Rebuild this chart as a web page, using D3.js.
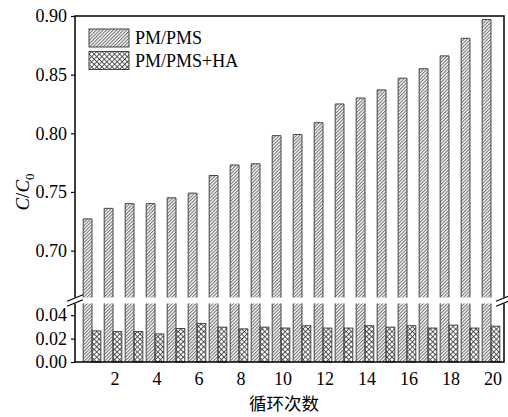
<!DOCTYPE html>
<html>
<head>
<meta charset="utf-8">
<script src="https://cdn.jsdelivr.net/npm/d3@7"></script>
<style>
  body { margin: 0; background: #fff; }
  svg { display: block; }
  text { font-family: "Liberation Serif", "DejaVu Serif", serif; fill: #000; }
</style>
</head>
<body>
<svg id="chart" width="508" height="417"></svg>
<script>
// Cycle numbers and the two series (C/C0)
const cycles = [1, 2, 3, 4, 5, 6, 7, 8, 9, 10, 11, 12, 13, 14, 15, 16, 17, 18, 19, 20]
const pmPms = [0.727, 0.736, 0.740, 0.740, 0.745, 0.749, 0.764, 0.773, 0.774, 0.798,
  0.799, 0.809, 0.825, 0.830, 0.837, 0.847, 0.855, 0.866, 0.881, 0.897]
const pmPmsHa = [0.0266, 0.026, 0.026, 0.024, 0.0286, 0.033, 0.0298, 0.0283, 0.0298, 0.029,
  0.031, 0.029, 0.029, 0.031, 0.0298, 0.031, 0.029, 0.0315, 0.029, 0.0306]
const seriesNames = ['PM/PMS', 'PM/PMS+HA']
const xTicks = [2, 4, 6, 8, 10, 12, 14, 16, 18, 20]
const upperTicks = [0.70, 0.75, 0.80, 0.85, 0.90]
const lowerTicks = [0.00, 0.02, 0.04]

const svg = d3.select('#chart')
const left = 75
const right = 504

// Scales : one x scale, two y scales for the broken axis
const xScale = d3.scaleLinear().domain([0.19, 20.62]).range([left, right])
const yUpper = d3.scaleLinear().domain([0.66, 0.90]).range([297.5, 16])
const yLower = d3.scaleLinear().domain([0, 0.05]).range([362, 303.5])
const barW = xScale(0.42) - xScale(0)

/**
 * Defines the hatch patterns used to fill the bars
 */
function addPatterns () {
  const defs = svg.append('defs')
  defs.append('pattern')
    .attr('id', 'hatch')
    .attr('patternUnits', 'userSpaceOnUse')
    .attr('width', 2.4).attr('height', 2.4)
    .attr('patternTransform', 'rotate(45)')
    .append('line')
    .attr('x1', 0.6).attr('y1', 0).attr('x2', 0.6).attr('y2', 2.4)
    .attr('stroke', '#333').attr('stroke-width', 0.75)

  const cross = defs.append('pattern')
    .attr('id', 'cross')
    .attr('patternUnits', 'userSpaceOnUse')
    .attr('width', 3.6).attr('height', 3.6)
    .attr('patternTransform', 'rotate(45)')
  cross.append('line')
    .attr('x1', 0.5).attr('y1', 0).attr('x2', 0.5).attr('y2', 3.6)
    .attr('stroke', '#333').attr('stroke-width', 0.8)
  cross.append('line')
    .attr('x1', 0).attr('y1', 0.5).attr('x2', 3.6).attr('y2', 0.5)
    .attr('stroke', '#333').attr('stroke-width', 0.8)
}

/**
 * Draws the bars in both parts of the broken axis
 */
function drawBars () {
  const g = svg.append('g').attr('class', 'bars')
  const top = yLower.range()[1]

  cycles.forEach((c, i) => {
    const x0 = xScale(c) - barW
    const x1 = xScale(c)
    // PM/PMS, upper part
    const yt = yUpper(pmPms[i])
    const yb = yUpper.range()[0]
    g.append('rect')
      .attr('x', x0).attr('y', yt).attr('width', barW).attr('height', yb - yt)
      .attr('fill', 'url(#hatch)')
    g.append('path')
      .attr('d', `M${x0},${yb}V${yt}H${x1}V${yb}`)
      .attr('fill', 'none').attr('stroke', '#444').attr('stroke-width', 1)
    // PM/PMS, lower part (runs through the whole lower segment)
    g.append('rect')
      .attr('x', x0).attr('y', top).attr('width', barW).attr('height', yLower(0) - top)
      .attr('fill', 'url(#hatch)')
    g.append('path')
      .attr('d', `M${x0},${top}V${yLower(0)}M${x1},${top}V${yLower(0)}`)
      .attr('fill', 'none').attr('stroke', '#444').attr('stroke-width', 1)
    // PM/PMS+HA
    const yh = yLower(pmPmsHa[i])
    g.append('rect')
      .attr('x', x1).attr('y', yh).attr('width', barW).attr('height', yLower(0) - yh)
      .attr('fill', 'url(#cross)')
      .attr('stroke', '#444').attr('stroke-width', 1)
  })
}

/**
 * Draws the frame, the axes and the break marks
 */
function drawAxes () {
  const up = svg.append('g').attr('class', 'y axis')
    .attr('transform', `translate(${left},0)`)
    .call(d3.axisLeft(yUpper).tickValues(upperTicks).tickFormat(d3.format('.2f')).tickSize(4).tickPadding(4))
  const low = svg.append('g').attr('class', 'y axis')
    .attr('transform', `translate(${left},0)`)
    .call(d3.axisLeft(yLower).tickValues(lowerTicks).tickFormat(d3.format('.2f')).tickSize(4).tickPadding(4))
  ;[up, low].forEach(a => {
    a.select('.domain').remove()
    a.selectAll('line').attr('stroke', '#000').attr('stroke-width', 1.2)
    a.selectAll('text').style('font-size', '18px')
      .style('font-family', '"Liberation Serif", serif')
  })

  // Frame lines, interrupted at the break
  const frame = svg.append('g').attr('stroke', '#000').attr('stroke-width', 1.5).attr('fill', 'none')
  const yb = yUpper.range()[0]
  const yt = yLower.range()[1]
  frame.append('path').attr('d',
    `M${left},${yb}V${yUpper(0.90)}H${right}V${yb}` +
    `M${left},${yt}V${yLower(0)}H${right}V${yt}`)

  // Break marks
  const marks = svg.append('g').attr('stroke', '#000').attr('stroke-width', 1.2)
  ;[left, right].forEach(x => {
    ;[yb + 0.5, yt - 0.5].forEach(y => {
      marks.append('line')
        .attr('x1', x - 8).attr('y1', y + 3.3)
        .attr('x2', x + 8).attr('y2', y - 3.3)
    })
  })

  // X tick labels
  svg.append('g').attr('class', 'x axis')
    .selectAll('text')
    .data(xTicks)
    .enter()
    .append('text')
    .attr('x', d => xScale(d) + 2)
    .attr('y', 385)
    .attr('text-anchor', 'middle')
    .style('font-size', '18px')
    .text(d => d)
}

/**
 * Draws the axis titles and the legend
 */
function drawLabels () {
  svg.append('text')
    .attr('x', 284)
    .attr('y', 410)
    .attr('text-anchor', 'middle')
    .style('font-family', '"Noto Sans CJK SC", sans-serif')
    .style('font-size', '17.5px')
    .text('循环次数')

  const yl = svg.append('text')
    .attr('transform', 'translate(29,192) rotate(-90)')
    .attr('text-anchor', 'middle')
    .style('font-size', '19px')
  yl.append('tspan').style('font-style', 'italic').text('C')
  yl.append('tspan').text('/')
  yl.append('tspan').style('font-style', 'italic').text('C')
  yl.append('tspan').attr('dy', 5).style('font-size', '13px').text('0')

  const legend = svg.append('g').attr('class', 'legend')
  const fills = ['url(#hatch)', 'url(#cross)']
  seriesNames.forEach((name, i) => {
    legend.append('rect')
      .attr('x', 89).attr('y', 29 + i * 22.5)
      .attr('width', 40).attr('height', 18)
      .attr('fill', fills[i]).attr('stroke', '#444').attr('stroke-width', 1)
    legend.append('text')
      .attr('x', 135).attr('y', 44 + i * 22.5)
      .style('font-size', '18px')
      .text(name)
  })
}

addPatterns()
drawBars()
drawAxes()
drawLabels()
</script>
</body>
</html>
